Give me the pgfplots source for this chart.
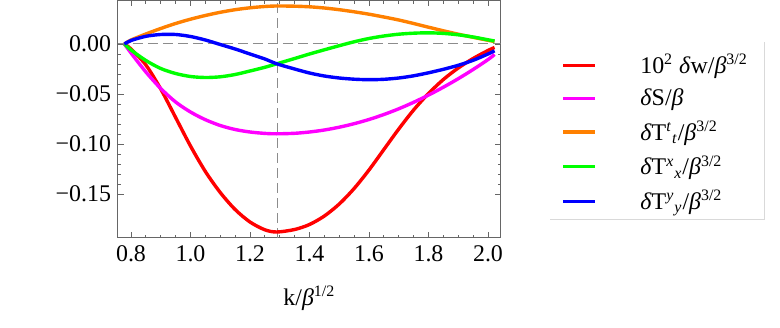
\documentclass[border=0pt]{standalone}
\usepackage{fontspec}
\setmainfont{Liberation Serif}
\usepackage{pgfplots}
\pgfplotsset{compat=1.18}
\definecolor{mOrange}{rgb}{1,0.5,0}
\definecolor{mGreen}{rgb}{0,1,0}
\definecolor{mMag}{rgb}{1,0,1}
\pgfplotstableread{
x y
0.778 0
0.80 -0.005
0.85 -0.021
0.90 -0.045
0.95 -0.0735
1.00 -0.102
1.05 -0.1275
1.10 -0.1485
1.15 -0.1655
1.20 -0.178
1.25 -0.1858
1.29 -0.188
1.35 -0.1855
1.40 -0.1805
1.45 -0.172
1.50 -0.160
1.55 -0.1445
1.60 -0.126
1.65 -0.1055
1.70 -0.085
1.75 -0.066
1.80 -0.0495
1.85 -0.0355
1.90 -0.024
1.95 -0.0145
2.00 -0.0065
2.022 -0.0035
}\redtab
\pgfplotstableread{
x y
0.778 0
0.80 -0.009
0.85 -0.028
0.90 -0.0445
0.95 -0.058
1.00 -0.068
1.05 -0.0757
1.10 -0.0815
1.15 -0.0855
1.20 -0.0880
1.25 -0.0894
1.29 -0.0898
1.35 -0.0893
1.40 -0.0880
1.45 -0.0860
1.50 -0.0832
1.55 -0.0797
1.60 -0.0755
1.65 -0.0705
1.70 -0.0648
1.75 -0.0583
1.80 -0.0511
1.85 -0.0432
1.90 -0.0347
1.95 -0.0255
2.00 -0.0156
2.022 -0.0105
}\magtab
\pgfplotstableread{
x y
0.778 0
0.80 0.004
0.85 0.0100
0.90 0.0155
0.95 0.0205
1.00 0.0248
1.05 0.0285
1.10 0.0317
1.15 0.0343
1.20 0.0362
1.25 0.0375
1.29 0.0380
1.35 0.0378
1.40 0.0372
1.45 0.0360
1.50 0.0343
1.55 0.0322
1.60 0.0298
1.65 0.0270
1.70 0.0240
1.75 0.0205
1.80 0.0168
1.85 0.0132
1.90 0.0098
1.95 0.0067
2.00 0.0037
2.022 0.0025
}\oratab
\pgfplotstableread{
x y
0.778 0
0.80 -0.006
0.85 -0.0165
0.90 -0.0245
0.95 -0.0295
1.00 -0.0325
1.05 -0.0335
1.10 -0.0328
1.15 -0.0305
1.20 -0.0270
1.25 -0.0233
1.29 -0.0198
1.35 -0.0145
1.40 -0.0100
1.45 -0.0058
1.50 -0.0017
1.55 0.0022
1.60 0.0055
1.65 0.0080
1.70 0.0098
1.75 0.0108
1.80 0.0112
1.85 0.0106
1.90 0.0092
1.95 0.0070
2.00 0.0042
2.022 0.0030
}\grntab
\pgfplotstableread{
x y
0.778 0
0.80 0.0035
0.85 0.0077
0.90 0.0095
0.95 0.0095
1.00 0.0075
1.05 0.0040
1.10 -0.0005
1.15 -0.0050
1.20 -0.0100
1.25 -0.0150
1.29 -0.0198
1.35 -0.0250
1.40 -0.0290
1.45 -0.0320
1.50 -0.0340
1.55 -0.0352
1.60 -0.0357
1.65 -0.0353
1.70 -0.0340
1.75 -0.0318
1.80 -0.0288
1.85 -0.0253
1.90 -0.0213
1.95 -0.0163
2.00 -0.0100
2.022 -0.0068
}\blutab
\begin{document}
\begin{tikzpicture}[font=\fontsize{12}{14}\selectfont]
\path (-59bp,-44.85bp) rectangle (331bp,118.65bp);
\begin{axis}[
  at={(0,0)}, anchor=south west,
  scale only axis, width=191.35bp, height=118.65bp,
  xmin=0.7563, xmax=2.0427, ymin=-0.1938, ymax=0.0435,
  xtick={0.8,1.0,1.2,1.4,1.6,1.8,2.0},
  xticklabels={0.8,1.0,1.2,1.4,1.6,1.8,2.0},
  ytick={-0.15,-0.1,-0.05,0},
  yticklabels={−0.15,−0.10,−0.05,0.00},
  minor x tick num=3, minor y tick num=4,
  major tick length=2.8bp, minor tick length=1.6bp,
  tick style={black!60, line width=0.45bp},
  axis line style={black!60, line width=0.5bp},
  tick label style={font=\fontsize{12}{14}\selectfont},
  xticklabel style={yshift=-0.6bp},
  xlabel={k/\textit{β}\textsuperscript{1/2}},
  xlabel style={at={(axis description cs:0.5,-0.285)}, anchor=base, font=\fontsize{12}{14}\selectfont},
  legend cell align=left,
  legend style={at={(axis description cs:1.126,0.809)}, anchor=north west,
    draw=none, fill=none, inner xsep=6bp, inner ysep=2bp, row sep=2.2bp,
    font=\fontsize{12}{14}\selectfont,
    /tikz/every odd column/.append style={column sep=20bp}},
  legend image code/.code={\draw[#1] (0bp,0bp) -- (15.8bp,0bp);},
  every axis plot/.append style={line width=1.7bp, smooth},
]
\addplot[forget plot, black!45, line width=0.5bp, dash pattern=on 5bp off 2.5bp, sharp plot] coordinates {(0.7563,0) (2.0427,0)};
\addplot[forget plot, black!45, line width=0.5bp, dash pattern=on 5bp off 2.5bp, sharp plot] coordinates {(1.292,-0.1938) (1.292,0.0435)};
\addplot[red] table {\redtab};
\addlegendentry{10\textsuperscript{2} \textit{δ}w/\textit{β}\textsuperscript{3/2}}
\addplot[mMag] table {\magtab};
\addlegendentry{\textit{δ}S/\textit{β}}
\addplot[mOrange] table {\oratab};
\addlegendentry{\textit{δ}T\textsuperscript{\textit{t}}\textsubscript{\textit{t}}/\textit{β}\textsuperscript{3/2}}
\addplot[mGreen] table {\grntab};
\addlegendentry{\textit{δ}T\textsuperscript{\textit{x}}\textsubscript{\textit{x}}/\textit{β}\textsuperscript{3/2}}
\addplot[blue] table {\blutab};
\addlegendentry{\textit{δ}T\textsuperscript{\textit{y}}\textsubscript{\textit{y}}/\textit{β}\textsuperscript{3/2}}
\end{axis}
\draw[black!15, line width=0.6bp] (216bp,9.15bp) -- (323.2bp,9.15bp) -- (323.2bp,97.8bp);
\end{tikzpicture}
\end{document}
